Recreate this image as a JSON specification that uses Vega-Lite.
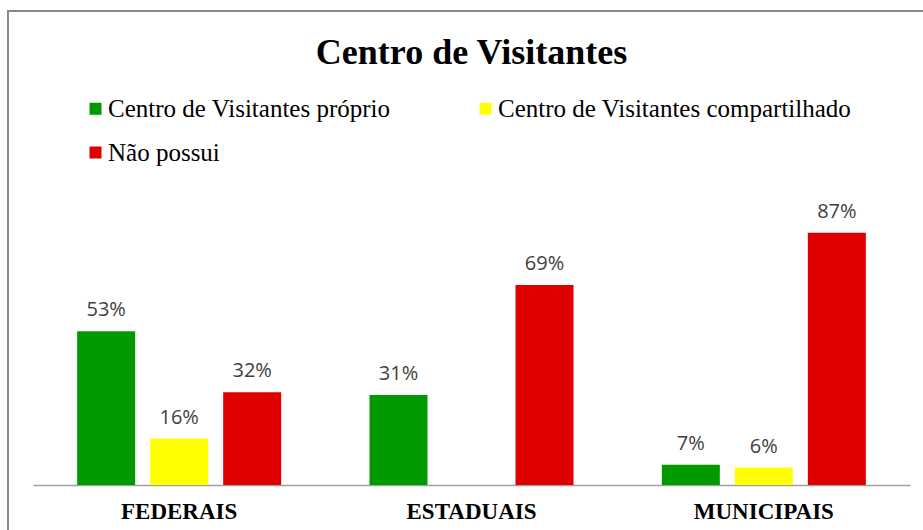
{
  "$schema": "https://vega.github.io/schema/vega-lite/v6.json",
  "width": 917,
  "height": 521,
  "autosize": {"type": "none"},
  "padding": {"left": 8, "top": 11, "right": -2, "bottom": -2},
  "background": "white",
  "title": {
    "text": "Centro de Visitantes",
    "font": "Liberation Serif",
    "fontSize": 36,
    "fontWeight": "bold",
    "color": "black",
    "anchor": "middle",
    "baseline": "alphabetic",
    "dx": 5,
    "offset": -89
  },
  "config": {
    "view": {"stroke": "#898989", "strokeWidth": 2}
  },
  "data": {
    "values": [
      {"categoria": "FEDERAIS", "tipo": "Centro de Visitantes próprio", "valor": 0.53},
      {"categoria": "FEDERAIS", "tipo": "Centro de Visitantes compartilhado", "valor": 0.16},
      {"categoria": "FEDERAIS", "tipo": "Não possui", "valor": 0.32},
      {"categoria": "ESTADUAIS", "tipo": "Centro de Visitantes próprio", "valor": 0.31},
      {"categoria": "ESTADUAIS", "tipo": "Não possui", "valor": 0.69},
      {"categoria": "MUNICIPAIS", "tipo": "Centro de Visitantes próprio", "valor": 0.07},
      {"categoria": "MUNICIPAIS", "tipo": "Centro de Visitantes compartilhado", "valor": 0.06},
      {"categoria": "MUNICIPAIS", "tipo": "Não possui", "valor": 0.87}
    ]
  },
  "encoding": {
    "x": {
      "field": "categoria",
      "type": "nominal",
      "sort": ["FEDERAIS", "ESTADUAIS", "MUNICIPAIS"],
      "scale": {"range": [25, 902], "paddingInner": 0, "paddingOuter": 0},
      "axis": {
        "title": null,
        "orient": "bottom",
        "offset": -47,
        "ticks": false,
        "domain": true,
        "domainColor": "#a0a0a0",
        "domainWidth": 1.5,
        "labelFont": "Liberation Serif",
        "labelFontSize": 23,
        "labelFontWeight": "bold",
        "labelColor": "black",
        "labelPadding": 15,
        "labelAngle": 0
      }
    },
    "xOffset": {
      "field": "tipo",
      "type": "nominal",
      "sort": ["Centro de Visitantes próprio", "Centro de Visitantes compartilhado", "Não possui"],
      "scale": {
        "domain": ["Centro de Visitantes próprio", "Centro de Visitantes compartilhado", "Não possui"],
        "paddingInner": 0.2055,
        "paddingOuter": 0.605
      }
    },
    "y": {
      "field": "valor",
      "type": "quantitative",
      "scale": {"domain": [0, 1], "range": [474, 184], "nice": false, "zero": true},
      "axis": null
    }
  },
  "layer": [
    {
      "mark": {"type": "bar"},
      "encoding": {
        "color": {
          "field": "tipo",
          "type": "nominal",
          "scale": {
            "domain": ["Centro de Visitantes próprio", "Centro de Visitantes compartilhado", "Não possui"],
            "range": ["#009900", "#ffff00", "#e00000"]
          },
          "legend": {
            "title": null,
            "orient": "none",
            "legendX": 75,
            "legendY": 85,
            "direction": "horizontal",
            "columns": 2,
            "columnPadding": 82,
            "rowPadding": 18,
            "padding": 0,
            "symbolType": "square",
            "symbolSize": 144,
            "symbolStrokeWidth": 0,
            "labelFont": "Liberation Serif",
            "labelFontSize": 25,
            "labelColor": "black",
            "labelOffset": 0,
            "labelLimit": 0
          }
        }
      }
    },
    {
      "mark": {
        "type": "text",
        "font": "Open Sans",
        "fontSize": 20,
        "color": "#404040",
        "baseline": "alphabetic",
        "dy": -15
      },
      "encoding": {
        "text": {"field": "valor", "type": "quantitative", "format": ".0%"}
      }
    }
  ]
}
